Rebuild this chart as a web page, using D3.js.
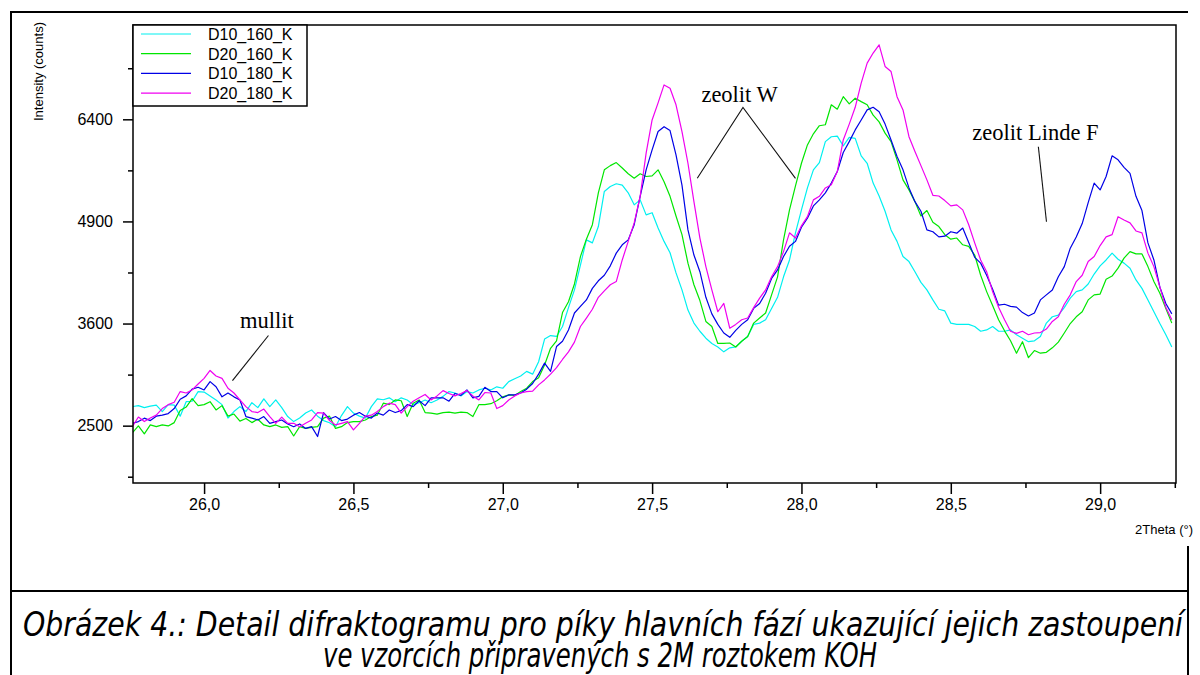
<!DOCTYPE html>
<html>
<head>
<meta charset="utf-8">
<script src="https://cdn.jsdelivr.net/npm/d3@7"></script>
<style>
  body { margin: 0; background: #fff; }
  svg { display: block; }
</style>
</head>
<body>
<svg id="chart" width="1200" height="675"></svg>
<script>
//
// Data
//

// scan grid: 2Theta start and step (deg)
const scanStart = 25.76;
const scanStep = 0.02;

const seriesNames = ['D10_160_K', 'D20_160_K', 'D10_180_K', 'D20_180_K'];

const d10_160 = [
  2690, 2700, 2680, 2695, 2705, 2640, 2710, 2705, 2594, 2740,
  2745, 2845, 2840, 2800, 2758, 2710, 2575, 2640, 2690, 2640,
  2730, 2680, 2770, 2690, 2758, 2680, 2590, 2540, 2575, 2625,
  2656, 2594, 2550, 2528, 2490, 2600, 2690, 2625, 2594, 2575,
  2690, 2770, 2760, 2780, 2740, 2780, 2758, 2710, 2730, 2758,
  2730, 2758, 2795, 2845, 2830, 2800, 2845, 2830, 2862, 2880,
  2862, 2895, 2880, 2950, 2980, 3010, 3060, 3030, 3165, 3420,
  3460, 3450, 3565, 3790, 4006, 4320, 4650, 4610, 4830, 5320,
  5390, 5430, 5410, 5300, 5130, 5200, 4990, 5020, 4810, 4630,
  4480, 4220, 4006, 3760, 3605, 3510, 3430, 3370, 3330, 3275,
  3320, 3330, 3395, 3450, 3590, 3605, 3645, 3780, 3915, 4170,
  4386, 4745, 5060, 5370, 5633, 5740, 6055, 6130, 6140, 5990,
  6120, 6105, 5840, 5730, 5440, 5255, 5040, 4784, 4630, 4430,
  4365, 4235, 4100, 4006, 3883, 3770, 3750, 3605, 3590, 3590,
  3590, 3565, 3510, 3525, 3565, 3510, 3510, 3525, 3470, 3430,
  3390, 3400, 3450, 3605, 3680, 3700, 3790, 3905, 3985, 4006,
  4080, 4205, 4310, 4386, 4475, 4395, 4345, 4280, 4131, 4025,
  3883, 3740, 3600, 3470, 3330
];

const d20_160 = [
  2430, 2497, 2420, 2507, 2490, 2507, 2497, 2530, 2650, 2685,
  2772, 2700, 2710, 2740, 2656, 2700, 2594, 2615, 2545, 2570,
  2530, 2563, 2507, 2490, 2507, 2483, 2490, 2400, 2490, 2473,
  2483, 2490, 2574, 2594, 2473, 2490, 2530, 2540, 2540, 2556,
  2590, 2604, 2725, 2710, 2758, 2750, 2590, 2725, 2758, 2630,
  2625, 2615, 2630, 2635, 2625, 2635, 2630, 2590, 2710, 2710,
  2720, 2750, 2790, 2810, 2805, 2845, 2880, 2950, 2990, 3130,
  3315, 3400, 3730, 3860, 4080, 4430, 4660, 4855, 5300, 5633,
  5695, 5740, 5660, 5575, 5510, 5575, 5535, 5545, 5633, 5460,
  5250, 4975, 4720, 4345, 4070, 3875, 3625, 3565, 3370, 3370,
  3375, 3330, 3395, 3450, 3605, 3665, 3725, 3945, 4170, 4650,
  5060, 5400, 5730, 6005, 6175, 6300, 6315, 6630, 6560, 6760,
  6645, 6735, 6680, 6630, 6465, 6360, 6185, 6055, 5781, 5486,
  5342, 5175, 4975, 5050, 4890, 4830, 4720, 4660, 4675, 4585,
  4565, 4450, 4190, 3985, 3815, 3645, 3515, 3400, 3260, 3390,
  3210, 3290, 3260, 3270, 3320, 3385, 3490, 3600, 3680, 3740,
  3883, 3945, 3955, 4140, 4180, 4280, 4410, 4495, 4465, 4465,
  4300, 4110, 3965, 3780, 3605
];

const d10_180 = [
  2523, 2540, 2574, 2550, 2594, 2604, 2620, 2670, 2765, 2800,
  2870, 2890, 2862, 2950, 2895, 2790, 2830, 2790, 2758, 2590,
  2575, 2556, 2590, 2523, 2540, 2556, 2517, 2490, 2517, 2473,
  2490, 2395, 2630, 2565, 2590, 2550, 2565, 2604, 2630, 2594,
  2575, 2625, 2604, 2656, 2630, 2650, 2710, 2690, 2750, 2700,
  2780, 2780, 2780, 2745, 2825, 2805, 2862, 2780, 2795, 2890,
  2845, 2845, 2780, 2810, 2810, 2830, 2870, 2930, 3030, 3150,
  3060, 3335, 3395, 3525, 3725, 3805, 3883, 4025, 4120, 4190,
  4310, 4475, 4585, 4650, 4855, 5250, 5633, 5929, 6210, 6285,
  6225, 5855, 5410, 4784, 4450, 4235, 3915, 3715, 3590, 3490,
  3440, 3520, 3590, 3645, 3780, 3840, 3965, 4150, 4258, 4430,
  4565, 4630, 4820, 4945, 5115, 5200, 5300, 5440, 5608, 5890,
  6055, 6235, 6390, 6548, 6590, 6520, 6325, 6081, 5830, 5633,
  5370, 5175, 5040, 4784, 4760, 4690, 4700, 4760, 4740, 4810,
  4615, 4420, 4345, 4190, 4015, 3820, 3830, 3805, 3795, 3730,
  3690, 3725, 3883, 3945, 4006, 4170, 4300, 4540, 4690, 4870,
  5160, 5440, 5342, 5535, 5840, 5781, 5670, 5580, 5250, 5050,
  4610, 4386, 4040, 3840, 3715
];

const d20_180 = [
  2490, 2585, 2540, 2575, 2604, 2670, 2710, 2735, 2845, 2830,
  2862, 2925, 2985, 3070, 3010, 2985, 2880, 2830, 2758, 2690,
  2640, 2630, 2665, 2590, 2523, 2585, 2523, 2523, 2490, 2523,
  2556, 2630, 2625, 2550, 2507, 2523, 2540, 2458, 2523, 2594,
  2604, 2640, 2690, 2725, 2710, 2625, 2690, 2745, 2780, 2815,
  2758, 2800, 2855, 2825, 2800, 2825, 2855, 2800, 2758, 2835,
  2830, 2670, 2700, 2758, 2800, 2830, 2845, 2850, 2915, 2968,
  3030, 3100, 3190, 3275, 3385, 3565, 3665, 3770, 3915, 3995,
  4070, 4110, 4386, 4630, 4880, 5250, 5880, 6390, 6660, 6950,
  6895, 6630, 6210, 5730, 5175, 4675, 4300, 4006, 3740, 3840,
  3545, 3590, 3645, 3665, 3790, 3905, 4006, 4170, 4300, 4495,
  4745, 4675, 4840, 4965, 5200, 5250, 5370, 5415, 5608, 6081,
  6325, 6590, 6980, 7310, 7480, 7620, 7255, 7170, 6760, 6548,
  6130, 5905, 5695, 5486, 5265, 5255, 5190, 5115, 5130, 5060,
  4855, 4610, 4386, 4235, 3985, 3795, 3645, 3510, 3485, 3510,
  3470, 3490, 3495, 3535, 3625, 3680, 3830, 3945, 4110, 4190,
  4365, 4430, 4575, 4690, 4720, 4965, 4920, 4880, 4770, 4745,
  4475, 4300, 4040, 3795, 3645
];

const yTicks = [2500, 3600, 4900, 6400];
const yMinorTicks = [2025, 3025, 4225, 5625, 7225];
const xTicks = [26.0, 26.5, 27.0, 27.5, 28.0, 28.5, 29.0];
const xMinorTicks = [26.25, 26.75, 27.25, 27.75, 28.25, 28.75, 29.25];

// phase labels, anchored in data units (2Theta, counts)
const phaseLabels = ['mullit', 'zeolit W', 'zeolit Linde F'];
const phaseLabelAt = [[26.120, 3548], [27.665, 6674], [28.572, 6080]];
const phasePointers = [
  [[[26.2155, 3461], [26.095, 2960]]],
  [[[27.6512, 5509], [27.8042, 6586], [27.98, 5509]]],
  [[[28.7932, 5978], [28.8203, 4896]]]
];

const captionLines = [
  'Obrázek 4.: Detail difraktogramu pro píky hlavních fází ukazující jejich zastoupení',
  've vzorcích připravených s 2M roztokem KOH'
];

//
// Configuration
//
const colors = ['#00f0f0', '#00e600', '#0000e6', '#f000f0'];
const plot = {left: 133, top: 25, right: 1176, bottom: 483};
const xDomain = [25.762, 29.254];
const yDomain = [1970, 7963];
const sansFont = '"Liberation Sans", Arial, sans-serif';
const serifFont = '"Liberation Serif", "Times New Roman", serif';

//
// Variables
//
const svg = d3.select('#chart');
const series = [d10_160, d20_160, d10_180, d20_180];
const twoTheta = d3.range(d10_160.length).map(i => +(scanStart + i * scanStep).toFixed(2));

const x = d3.scaleLinear().domain(xDomain).range([plot.left, plot.right]);
const y = d3.scaleSqrt().domain(yDomain).range([plot.bottom, plot.top]);

const line = d3.line()
    .x((d, i) => x(twoTheta[i]))
    .y(d => y(d));

//
// Functions
//
function drawFrame() {
  // the chart picture covers the right edge of the page frame above the caption
  const frame = 'M1188,546 V675 M11,675 V12 H1188';
  svg.append('path')
      .attr('d', frame)
      .attr('fill', 'none')
      .attr('stroke', '#000')
      .attr('stroke-width', 2);
  svg.append('line')
      .attr('x1', 11).attr('x2', 1188)
      .attr('y1', 591).attr('y2', 591)
      .attr('stroke', '#000')
      .attr('stroke-width', 2);
}

function drawAxes() {
  svg.append('g')
      .attr('transform', `translate(${plot.left},0)`)
      .call(d3.axisLeft(y).tickValues(yTicks).tickSize(10).tickPadding(10).tickFormat(d3.format('d')));
  svg.append('g')
      .attr('transform', `translate(${plot.left},0)`)
      .call(d3.axisLeft(y).tickValues(yMinorTicks).tickSize(5).tickFormat(''));

  svg.append('g')
      .attr('transform', `translate(0,${plot.bottom})`)
      .call(d3.axisBottom(x).tickValues(xTicks).tickSize(11).tickPadding(5)
          .tickFormat(d => d.toFixed(1).replace('.', ',')));
  svg.append('g')
      .attr('transform', `translate(0,${plot.bottom})`)
      .call(d3.axisBottom(x).tickValues(xMinorTicks).tickSize(5).tickFormat(''));

  svg.selectAll('.domain').remove();
  svg.selectAll('.tick line').attr('stroke', '#000').attr('stroke-width', 1.5);
  svg.selectAll('.tick text')
      .attr('fill', '#000')
      .style('font-family', sansFont)
      .style('font-size', '16px');

  svg.append('rect')
      .attr('x', plot.left).attr('y', plot.top)
      .attr('width', plot.right - plot.left)
      .attr('height', plot.bottom - plot.top)
      .attr('fill', 'none')
      .attr('stroke', '#000')
      .attr('stroke-width', 1.5);

  svg.append('text')
      .attr('transform', 'translate(43,22) rotate(-90)')
      .attr('text-anchor', 'end')
      .style('font-family', sansFont)
      .style('font-size', '13px')
      .text('Intensity (counts)');

  svg.append('text')
      .attr('x', 1193).attr('y', 534)
      .attr('text-anchor', 'end')
      .style('font-family', sansFont)
      .style('font-size', '13px')
      .text('2Theta (°)');
}

function drawSeries() {
  svg.append('clipPath')
      .attr('id', 'plot-clip')
    .append('rect')
      .attr('x', plot.left).attr('y', plot.top)
      .attr('width', plot.right - plot.left)
      .attr('height', plot.bottom - plot.top);

  svg.append('g')
      .attr('clip-path', 'url(#plot-clip)')
    .selectAll('path')
    .data(series)
    .join('path')
      .attr('d', line)
      .attr('fill', 'none')
      .attr('stroke', (d, i) => colors[i])
      .attr('stroke-width', 1.2)
      .attr('stroke-linejoin', 'round');
}

function drawLegend() {
  const legend = svg.append('g')
      .attr('transform', `translate(${plot.left},${plot.top})`);
  legend.append('rect')
      .attr('width', 174).attr('height', 81)
      .attr('fill', '#fff')
      .attr('stroke', '#000')
      .attr('stroke-width', 1.5);
  const item = legend.selectAll('.item')
      .data(seriesNames)
      .join('g')
      .attr('class', 'item')
      .attr('transform', (d, i) => `translate(0,${9 + i * 19.7})`);
  item.append('line')
      .attr('x1', 8).attr('x2', 58)
      .attr('stroke', (d, i) => colors[i])
      .attr('stroke-width', 1.2);
  item.append('text')
      .attr('x', 75).attr('y', 6)
      .style('font-family', sansFont)
      .style('font-size', '16px')
      .text(d => d);
}

function drawAnnotations() {
  const pointer = d3.line().x(d => x(d[0])).y(d => y(d[1]));
  phasePointers.forEach(paths => {
    paths.forEach(p => {
      svg.append('path')
          .attr('d', pointer(p))
          .attr('fill', 'none')
          .attr('stroke', '#111')
          .attr('stroke-width', 1.1);
    });
  });
  svg.selectAll('.phase')
      .data(phaseLabels)
      .join('text')
      .attr('class', 'phase')
      .attr('x', (d, i) => x(phaseLabelAt[i][0]))
      .attr('y', (d, i) => y(phaseLabelAt[i][1]))
      .style('font-family', serifFont)
      .style('font-size', '22.5px')
      .text(d => d);
}

function drawCaption() {
  const widths = [1160, 554];
  const centers = [603, 600];
  svg.selectAll('.caption')
      .data(captionLines)
      .join('text')
      .attr('class', 'caption')
      .attr('x', (d, i) => centers[i])
      .attr('y', (d, i) => 636 + i * 31)
      .attr('text-anchor', 'middle')
      .attr('textLength', (d, i) => widths[i])
      .attr('lengthAdjust', 'spacingAndGlyphs')
      .style('font-family', '"DejaVu Sans", sans-serif')
      .style('font-style', 'italic')
      .style('font-size', '33px')
      .text(d => d);
}

//
// Initialization
//
drawFrame();
drawSeries();
drawAxes();
drawLegend();
drawAnnotations();
drawCaption();
</script>
</body>
</html>
